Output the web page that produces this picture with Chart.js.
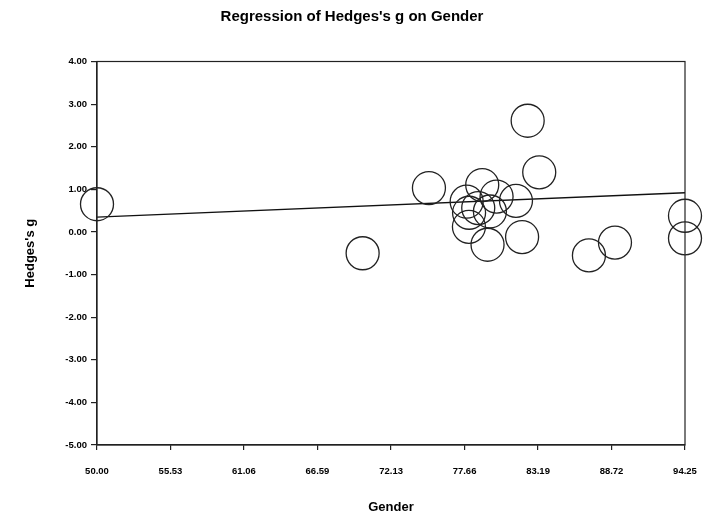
<!DOCTYPE html>
<html>
<head>
<meta charset="utf-8">
<title>Regression of Hedges's g on Gender</title>
<script src="https://cdn.jsdelivr.net/npm/chart.js@4/dist/chart.umd.min.js"></script>
<style>
  html, body { margin: 0; padding: 0; background: #fff; }
  #box { width: 708px; height: 518px; }
</style>
</head>
<body>
<div id="box"><canvas id="myChart"></canvas></div>
<script>
'use strict';

// one study per circle: percent female vs effect size
let gender = [50.00, 69.99, 74.98, 82.41, 83.28, 78.99, 80.07, 81.53, 77.82, 78.00,
              78.69, 79.57, 77.99, 79.39, 81.99, 87.02, 88.98, 94.25, 94.25];
let hedgesG = [0.65, -0.50, 1.03, 2.61, 1.40, 1.10, 0.83, 0.73, 0.71, 0.45,
               0.56, 0.48, 0.12, -0.30, -0.12, -0.55, -0.25, 0.38, -0.15];

// fitted line end points
let lineX = [50.00, 94.25];
let lineY = [0.35, 0.92];

let xTicks = [50.00, 55.53, 61.06, 66.59, 72.13, 77.66, 83.19, 88.72, 94.25];
let yTicks = [-5, -4, -3, -2, -1, 0, 1, 2, 3, 4];

let points = [];
for (let i = 0; i < gender.length; i++) {
    points.push({x: gender[i], y: hedgesG[i]});
}
let fitLine = [];
for (let i = 0; i < lineX.length; i++) {
    fitLine.push({x: lineX[i], y: lineY[i]});
}

// box round the plot area
let frame = {
    id: 'frame',
    afterDatasetsDraw(chart) {
        let a = chart.chartArea;
        let ctx = chart.ctx;
        ctx.save();
        ctx.strokeStyle = '#222';
        ctx.lineWidth = 1.2;
        ctx.strokeRect(a.left, a.top, a.right - a.left, a.bottom - a.top);
        ctx.restore();
    }
};

let tickFont = {family: '"Liberation Sans", Arial, sans-serif', size: 9.5, weight: 'bold'};
let titleFont = {family: '"Liberation Sans", Arial, sans-serif', size: 13, weight: 'bold'};

let chardata = {
    type: 'scatter',
    data: {
        datasets: [{
            label: 'Studies',
            data: points,
            pointRadius: 16.5,
            pointHoverRadius: 16.5,
            backgroundColor: 'rgba(0,0,0,0)',
            borderColor: '#222',
            borderWidth: 1.3,
            clip: false
        },
        {
            type: 'line',
            label: 'Regression',
            data: fitLine,
            borderColor: '#111',
            borderWidth: 1.3,
            pointRadius: 0,
            fill: false
        }]
    },
    options: {
        responsive: true,
        maintainAspectRatio: false,
        animation: false,
        layout: {padding: {left: 19, right: 23, top: 0, bottom: 0}},
        plugins: {
            legend: {display: false},
            tooltip: {enabled: false},
            title: {
                display: true,
                text: "Regression of Hedges's g on Gender",
                color: '#000',
                font: {family: '"Liberation Sans", Arial, sans-serif', size: 15, weight: 'bold'},
                padding: {top: 7.5, bottom: 36}
            }
        },
        scales: {
            x: {
                type: 'linear',
                min: 50,
                max: 94.25,
                afterBuildTicks(scale) {
                    scale.ticks = xTicks.map(v => ({value: v}));
                },
                afterFit(scale) {
                    scale.height = 73;
                    scale.paddingLeft = 0;
                    scale.paddingRight = 0;
                },
                ticks: {
                    color: '#000',
                    font: tickFont,
                    padding: 16,
                    maxRotation: 0,
                    callback: v => v.toFixed(2)
                },
                grid: {drawOnChartArea: false, tickLength: 5, color: '#222', lineWidth: 1.2},
                border: {display: true, color: '#222', width: 1.2},
                title: {
                    display: true,
                    text: 'Gender',
                    color: '#000',
                    font: titleFont,
                    padding: {top: 0, bottom: 3}
                }
            },
            y: {
                type: 'linear',
                min: -5,
                max: 4,
                afterBuildTicks(scale) {
                    scale.ticks = yTicks.map(v => ({value: v}));
                },
                afterFit(scale) {
                    scale.width = 78;
                },
                ticks: {
                    color: '#000',
                    font: tickFont,
                    padding: 4,
                    callback: v => v.toFixed(2)
                },
                grid: {drawOnChartArea: false, tickLength: 6, color: '#222', lineWidth: 1.2},
                border: {display: true, color: '#222', width: 1.2},
                title: {
                    display: true,
                    text: "Hedges's g",
                    color: '#000',
                    font: titleFont,
                    padding: {top: 3.5, bottom: 0}
                }
            }
        }
    },
    plugins: [frame]
};

let ctx = document.getElementById('myChart').getContext('2d');
let myChart = new Chart(ctx, chardata);
</script>
</body>
</html>
